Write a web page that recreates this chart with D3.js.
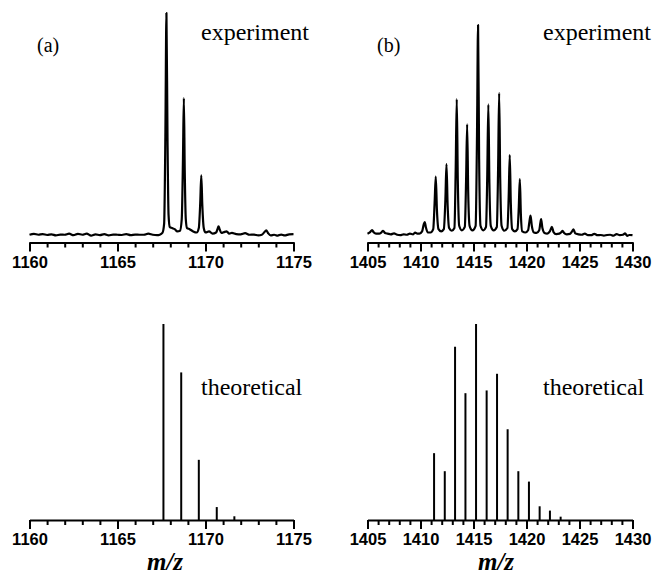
<!DOCTYPE html>
<html lang="en">
<head>
<meta charset="UTF-8" />
<script src="https://cdnjs.cloudflare.com/ajax/libs/d3/7.8.5/d3.min.js"></script>
<title>Isotope patterns</title>
<style>
body { margin: 0; background: #fff; }
svg text { fill: #000; }
.tick-label { font-family: "Liberation Sans", Arial, sans-serif; font-weight: bold; font-size: 16.5px; }
.note { font-family: "Liberation Serif", "Times New Roman", serif; font-size: 24px; }
.panel-tag { font-family: "Liberation Serif", "Times New Roman", serif; font-size: 20px; }
.xlabel { font-family: "Liberation Serif", "Times New Roman", serif; font-size: 25px; font-weight: bold; font-style: italic; }
</style>
</head>
<body>
<div id="chart"></div>
<script>

// --- data (intensity normalised to the tallest peak = 100) ---

// (a) measured trace, [m/z, intensity]
const expA = [
  [1160.0, 1.0], [1160.25, 1.4], [1160.5, 1.0], [1160.75, 1.3], [1161.0, 0.9],
  [1161.25, 1.2], [1161.5, 0.7], [1161.75, 1.1], [1162.0, 1.0], [1162.25, 1.5],
  [1162.5, 0.8], [1162.75, 1.4], [1163.0, 1.0], [1163.25, 1.5], [1163.5, 0.6],
  [1163.75, 1.2], [1164.0, 0.8], [1164.25, 1.3], [1164.5, 0.7], [1164.75, 1.1],
  [1165.0, 1.0], [1165.25, 0.9], [1165.5, 1.3], [1165.75, 0.8], [1166.0, 1.1],
  [1166.25, 1.0], [1166.5, 1.0], [1166.75, 1.5], [1167.0, 1.0], [1167.25, 0.8],
  [1167.4, 1.0], [1167.55, 1.8], [1167.65, 6], [1167.72, 45], [1167.78, 100],
  [1167.84, 45], [1167.9, 10], [1167.97, 4.5], [1168.1, 4], [1168.25, 3.5],
  [1168.4, 2.5], [1168.55, 2.8], [1168.65, 8], [1168.72, 35], [1168.77, 62],
  [1168.82, 30], [1168.88, 8], [1168.95, 4], [1169.1, 3.5], [1169.3, 2.5],
  [1169.5, 2.0], [1169.62, 4], [1169.7, 15], [1169.76, 27.5], [1169.82, 14],
  [1169.9, 4], [1170.0, 2.0], [1170.2, 2.5], [1170.4, 1.5], [1170.6, 2.0],
  [1170.68, 3.5], [1170.74, 4.8], [1170.8, 3.5], [1170.9, 1.8], [1171.05, 2.2],
  [1171.2, 2.5], [1171.35, 1.5], [1171.5, 1.8], [1171.75, 1.3], [1172.0, 1.2],
  [1172.25, 1.7], [1172.5, 1.0], [1172.75, 1.1], [1173.0, 0.7], [1173.2, 1.0],
  [1173.35, 2.2], [1173.45, 3.0], [1173.55, 1.8], [1173.7, 0.7], [1173.9, 1.0],
  [1174.1, 0.6], [1174.3, 1.1], [1174.5, 0.7], [1174.75, 1.2], [1175.0, 1.3]
];

// (a) calculated sticks
const theoA_mz = [1167.61, 1168.62, 1169.62, 1170.64, 1171.64];
const theoA_int = [100, 75.3, 30.7, 6.6, 1.9];

// (b) measured trace
const expB = [
  [1405.0, 1.5], [1405.25, 2.2], [1405.43, 3.1], [1405.6, 2.0], [1405.8, 1.5],
  [1406.1, 1.5], [1406.3, 2.0], [1406.47, 2.8], [1406.65, 1.8], [1406.9, 1.5],
  [1407.2, 1.2], [1407.5, 1.6], [1407.8, 1.0], [1408.1, 0.8], [1408.4, 1.2],
  [1408.7, 1.0], [1409.0, 1.5], [1409.3, 1.2], [1409.5, 2.0], [1409.7, 1.5],
  [1409.9, 1.5], [1410.15, 2.5], [1410.3, 5.5], [1410.4, 6.7], [1410.5, 4.5],
  [1410.7, 2.0], [1410.95, 2.0], [1411.2, 3.5], [1411.33, 15], [1411.44, 27],
  [1411.55, 12], [1411.7, 3.5], [1411.95, 2.5], [1412.2, 3.5], [1412.35, 17],
  [1412.45, 32.5], [1412.56, 14], [1412.7, 4], [1412.95, 2.8], [1413.2, 4],
  [1413.32, 30], [1413.42, 61.6], [1413.52, 25], [1413.65, 5], [1413.9, 3],
  [1414.18, 4.5], [1414.3, 25], [1414.4, 50.3], [1414.5, 20], [1414.63, 5],
  [1414.9, 3], [1415.2, 5], [1415.33, 45], [1415.43, 94.6], [1415.53, 35],
  [1415.66, 5], [1415.92, 3], [1416.18, 4.5], [1416.3, 28], [1416.4, 59.2],
  [1416.5, 24], [1416.63, 5], [1416.9, 3], [1417.2, 4.5], [1417.32, 30],
  [1417.42, 64.3], [1417.52, 26], [1417.65, 5], [1417.9, 2.8], [1418.2, 4],
  [1418.32, 18], [1418.42, 36.6], [1418.52, 15], [1418.65, 3.5], [1418.9, 2.5],
  [1419.15, 3.5], [1419.27, 13], [1419.37, 25.8], [1419.47, 10], [1419.6, 2.5],
  [1419.9, 2.0], [1420.15, 3], [1420.28, 7], [1420.38, 9.5], [1420.5, 5],
  [1420.7, 2.0], [1420.95, 1.8], [1421.2, 3], [1421.3, 6], [1421.38, 8.0],
  [1421.5, 4], [1421.7, 1.8], [1421.95, 1.5], [1422.2, 2.5], [1422.4, 4.5],
  [1422.55, 2.2], [1422.8, 1.3], [1423.1, 1.5], [1423.3, 2.2], [1423.4, 2.8],
  [1423.55, 1.8], [1423.8, 1.2], [1424.1, 1.4], [1424.3, 2.5], [1424.43, 3.4],
  [1424.6, 1.6], [1424.9, 1.2], [1425.2, 1.0], [1425.5, 1.5], [1425.8, 0.8],
  [1426.1, 0.8], [1426.4, 1.4], [1426.7, 0.8], [1427.0, 0.9], [1427.3, 0.6],
  [1427.6, 0.9], [1427.9, 1.0], [1428.2, 0.6], [1428.5, 1.3], [1428.8, 0.8],
  [1429.1, 1.0], [1429.3, 1.6], [1429.5, 0.5], [1429.7, 0.9], [1430.0, 0.8]
];

// (b) calculated sticks
const theoB_mz = [1411.28, 1412.29, 1413.26, 1414.24, 1415.24, 1416.24, 1417.22,
                  1418.22, 1419.23, 1420.23, 1421.24, 1422.21, 1423.22];
const theoB_int = [34.1, 24.9, 88.4, 64.7, 100, 66.1, 74.6, 46.3, 24.9, 19.6, 7.0, 4.8, 1.7];

const domainA = [1160, 1175];
const domainB = [1405, 1430];
const majorA = [1160, 1165, 1170, 1175];
const majorB = [1405, 1410, 1415, 1420, 1425, 1430];

// --- layout ---
const W = 653, H = 577;
const svg = d3.select('#chart').append('svg')
  .attr('width', W).attr('height', H);

const xA = d3.scaleLinear().domain(domainA).range([29.5, 293.5]);
const xB = d3.scaleLinear().domain(domainB).range([367.5, 632.5]);
const yTop = d3.scaleLinear().domain([0, 100]).range([237, 13]);
const yBot = d3.scaleLinear().domain([0, 100]).range([520, 324]);

function drawAxis(x, yPos, majors) {
  const g = svg.append('g').attr('transform', `translate(0,${yPos})`);
  const minor = d3.range(x.domain()[0], x.domain()[1] + 1, 1);

  g.append('g')
    .call(d3.axisBottom(x).tickValues(minor).tickSize(5).tickSizeOuter(0).tickFormat(''))
    .call(a => a.select('.domain').attr('stroke-width', 2.2))
    .call(a => a.selectAll('.tick line').attr('stroke-width', 2));

  g.append('g')
    .call(d3.axisBottom(x).tickValues(majors).tickSize(9).tickSizeOuter(0).tickFormat(d3.format('d')))
    .call(a => a.select('.domain').remove())
    .call(a => a.selectAll('.tick line').attr('stroke-width', 2))
    .call(a => a.selectAll('.tick text')
      .attr('class', 'tick-label')
      .attr('font-family', null).attr('font-size', null)
      .attr('y', 25).attr('dy', 0));
}

const line = (x, y) => d3.line()
  .x(d => x(d[0]))
  .y(d => y(d[1]))
  .curve(d3.curveMonotoneX);

function drawTrace(data, x) {
  svg.append('path')
    .datum(data)
    .attr('d', line(x, yTop))
    .attr('fill', 'none')
    .attr('stroke', '#000')
    .attr('stroke-width', 2.2)
    .attr('stroke-linejoin', 'round');
}

function drawSticks(mz, ints, x) {
  svg.append('g')
    .selectAll('line')
    .data(d3.zip(mz, ints))
    .join('line')
    .attr('x1', d => x(d[0])).attr('x2', d => x(d[0]))
    .attr('y1', yBot(0)).attr('y2', d => yBot(d[1]))
    .attr('stroke', '#000')
    .attr('stroke-width', 2);
}

drawTrace(expA, xA);
drawTrace(expB, xB);
drawSticks(theoA_mz, theoA_int, xA);
drawSticks(theoB_mz, theoB_int, xB);

drawAxis(xA, 242.5, majorA);
drawAxis(xB, 242.5, majorB);
drawAxis(xA, 520, majorA);
drawAxis(xB, 520, majorB);

// --- texts ---
svg.append('text').attr('class', 'panel-tag').attr('x', 37).attr('y', 52).text('(a)');
svg.append('text').attr('class', 'panel-tag').attr('x', 377).attr('y', 52).text('(b)');
svg.append('text').attr('class', 'note').attr('x', 201).attr('y', 40).text('experiment');
svg.append('text').attr('class', 'note').attr('x', 543).attr('y', 40).text('experiment');
svg.append('text').attr('class', 'note').attr('x', 201).attr('y', 395).text('theoretical');
svg.append('text').attr('class', 'note').attr('x', 543).attr('y', 395).text('theoretical');

svg.append('text').attr('class', 'xlabel').attr('x', 165).attr('y', 570)
  .attr('text-anchor', 'middle').text('m/z');
svg.append('text').attr('class', 'xlabel').attr('x', 496).attr('y', 570)
  .attr('text-anchor', 'middle').text('m/z');

</script>
</body>
</html>
